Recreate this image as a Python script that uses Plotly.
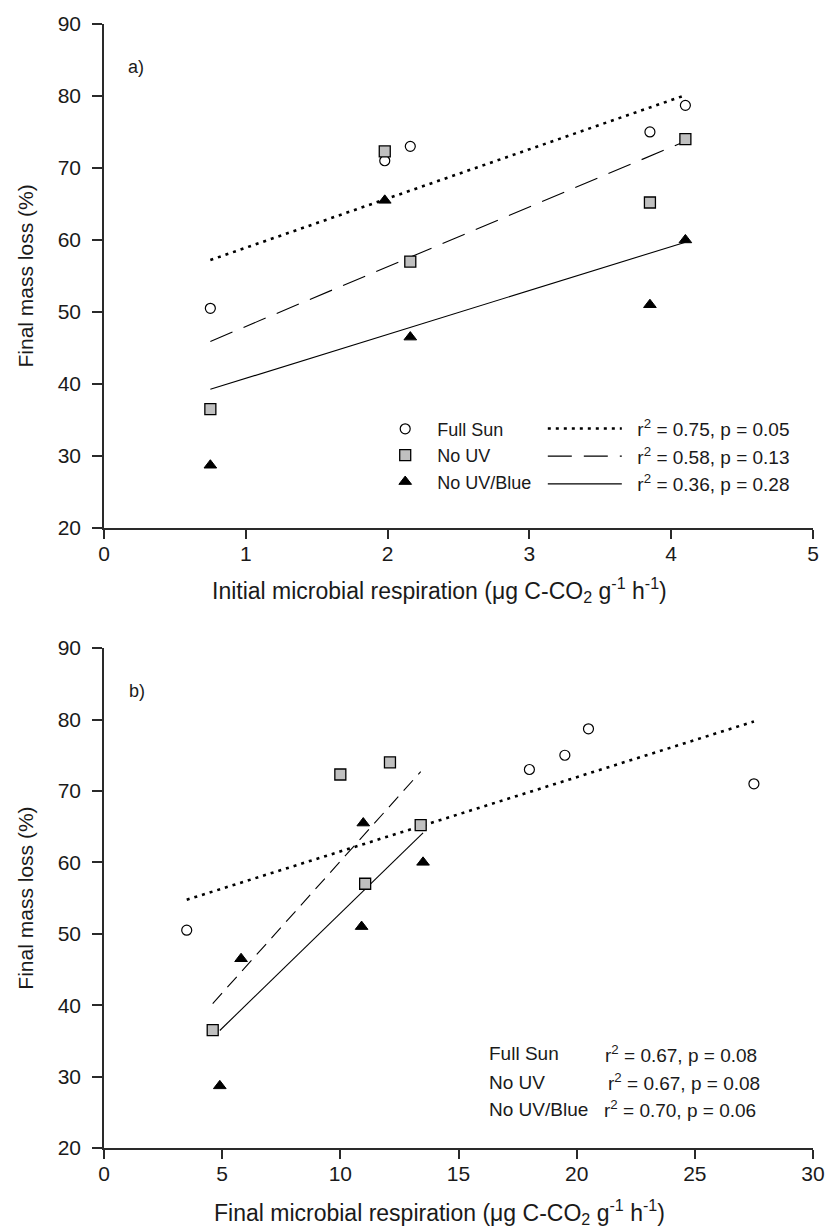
import numpy as np
import plotly.graph_objects as go

# Treatments
groups = ["Full Sun", "No UV", "No UV/Blue"]

# Final mass loss (%) of the five litters under each treatment
mass_loss_full_sun = [50.5, 71.0, 73.0, 75.0, 78.7]
mass_loss_no_uv = [36.5, 72.3, 57.0, 65.2, 74.0]
mass_loss_no_uv_blue = [28.7, 65.5, 46.5, 51.0, 60.0]

# Initial microbial respiration of the five litters (ug C-CO2 g-1 h-1)
initial_resp = [0.75, 1.98, 2.16, 3.85, 4.10]

# Final microbial respiration under each treatment (ug C-CO2 g-1 h-1)
final_resp_full_sun = [3.5, 27.5, 18.0, 19.5, 20.5]
final_resp_no_uv = [4.6, 10.0, 11.05, 13.4, 12.1]
final_resp_no_uv_blue = [4.9, 10.97, 5.8, 10.9, 13.5]

# Regression statistics
stats_initial = ["r<sup>2</sup> = 0.75, p = 0.05",
                 "r<sup>2</sup> = 0.58, p = 0.13",
                 "r<sup>2</sup> = 0.36, p = 0.28"]
stats_final = ["r<sup>2</sup> = 0.67, p = 0.08",
               "r<sup>2</sup> = 0.67, p = 0.08",
               "r<sup>2</sup> = 0.70, p = 0.06"]

# Axis tick values
x_ticks_initial = [0, 1, 2, 3, 4, 5]
x_ticks_final = [0, 5, 10, 15, 20, 25, 30]
y_ticks = [20, 30, 40, 50, 60, 70, 80, 90]

mass_loss = [mass_loss_full_sun, mass_loss_no_uv, mass_loss_no_uv_blue]
final_resp = [final_resp_full_sun, final_resp_no_uv, final_resp_no_uv_blue]

FONT = "Liberation Sans, Arial, sans-serif"
TXT = "#1a1a1a"
AX = "#2a2a2a"

markers = [
    dict(symbol="circle-open", size=10, color="black", line=dict(width=1.2, color="black")),
    dict(symbol="square", size=11, color="#c0c0c0", line=dict(width=1.3, color="black")),
    dict(symbol="triangle-up", size=11, color="black", line=dict(width=1, color="black")),
]
lines_initial = [
    dict(color="black", width=2.6, dash="3px,5px"),
    dict(color="black", width=1.1, dash="24px,12px"),
    dict(color="black", width=1.1, dash="solid"),
]
lines_final = [
    dict(color="black", width=2.6, dash="3px,5px"),
    dict(color="black", width=1.1, dash="14px,8px"),
    dict(color="black", width=1.1, dash="solid"),
]


def fit_line(x, y):
    slope, intercept = np.polyfit(x, y, 1)
    xs = np.array([min(x), max(x)])
    return xs, slope * xs + intercept


fig = go.Figure()

# Panel a: regression lines (second legend) then points (first legend)
for i, g in enumerate(groups):
    xs, ys = fit_line(initial_resp, mass_loss[i])
    fig.add_trace(go.Scatter(
        x=xs, y=ys, mode="lines", line=lines_initial[i],
        name="\u00a0\u00a0" + stats_initial[i], legend="legend2",
        legendgroup="fit%d" % i, xaxis="x", yaxis="y", hoverinfo="skip"))
for i, g in enumerate(groups):
    fig.add_trace(go.Scatter(
        x=initial_resp, y=mass_loss[i], mode="markers", marker=markers[i],
        name=g, legend="legend", xaxis="x", yaxis="y"))

# Panel b
for i, g in enumerate(groups):
    xs, ys = fit_line(final_resp[i], mass_loss[i])
    fig.add_trace(go.Scatter(
        x=xs, y=ys, mode="lines", line=lines_final[i], showlegend=False,
        xaxis="x2", yaxis="y2", hoverinfo="skip"))
for i, g in enumerate(groups):
    fig.add_trace(go.Scatter(
        x=final_resp[i], y=mass_loss[i], mode="markers", marker=markers[i],
        name=g, showlegend=False, xaxis="x2", yaxis="y2"))

W, H = 837, 1232
ML, MR, MT, MB = 104, 14, 17, 84
PW, PH = W - ML - MR, H - MT - MB
dom_a = [1 - (524 - MT) / PH, 1]
dom_b = [0, (1148 - 645) / PH]

tick_font = dict(family=FONT, size=21, color=TXT)
base = dict(showline=True, linecolor=AX, linewidth=1.5, showgrid=False,
            zeroline=False, tickwidth=1.5, tickcolor=AX, tickfont=tick_font)
outer_x = dict(base, ticks="outside", ticklen=9, ticklabelstandoff=-3)
outer_y = dict(base, ticks="outside", ticklen=10, ticklabelstandoff=7,
               title=dict(text="Final mass loss (%)",
                          font=dict(family=FONT, size=21, color=TXT),
                          standoff=18))
inner = dict(base, ticks="inside", ticklen=9, showticklabels=False)

fig.update_layout(
    width=W, height=H,
    margin=dict(l=ML, r=MR, t=MT, b=MB),
    paper_bgcolor="white", plot_bgcolor="white",
    font=dict(family=FONT, color=TXT),
    xaxis=dict(outer_x, domain=[0, 1], anchor="y", range=[0, 5], tickvals=x_ticks_initial),
    yaxis=dict(outer_y, domain=dom_a, anchor="x", range=[20, 90], tickvals=y_ticks),
    xaxis3=dict(inner, overlaying="x", anchor="y", side="top", range=[0, 5], tickvals=x_ticks_initial),
    yaxis3=dict(inner, overlaying="y", anchor="x", side="right", range=[20, 90], tickvals=y_ticks),
    xaxis2=dict(outer_x, domain=[0, 1], anchor="y2", range=[0, 30], tickvals=x_ticks_final),
    yaxis2=dict(outer_y, domain=dom_b, anchor="x2", range=[20, 90], tickvals=y_ticks),
    xaxis4=dict(inner, overlaying="x2", anchor="y2", side="top", range=[0, 30], tickvals=x_ticks_final),
    yaxis4=dict(inner, overlaying="y2", anchor="x2", side="right", range=[20, 90], tickvals=y_ticks),
    legend=dict(x=(377 - ML) / PW, y=(1148 - 406) / PH, xanchor="left", yanchor="top",
                itemwidth=54, bgcolor="rgba(0,0,0,0)", borderwidth=0,
                font=dict(family=FONT, size=18, color=TXT), traceorder="normal"),
    legend2=dict(x=(549 - ML) / PW, y=(1148 - 405) / PH, xanchor="left", yanchor="top",
                 itemwidth=74, bgcolor="rgba(0,0,0,0)", borderwidth=0, tracegroupgap=0,
                 font=dict(family=FONT, size=19, color=TXT), traceorder="grouped"),
    showlegend=True,
)

ann_font = dict(family=FONT, size=19, color=TXT)
title_font = dict(family=FONT, size=23, color=TXT)
annotations = [
    dict(text="a)", x=(126 - ML) / PW, y=(524 - 62) / 505, xref="x domain", yref="y domain",
         xanchor="left", yanchor="middle", showarrow=False, font=dict(ann_font, size=18)),
    dict(text="b)", x=(127 - ML) / PW, y=(1148 - 688) / 503, xref="x2 domain", yref="y2 domain",
         xanchor="left", yanchor="middle", showarrow=False, font=dict(ann_font, size=18)),
    dict(text="Initial microbial respiration (\u03bcg C-CO<sub>2</sub> g<sup>-1</sup> h<sup>-1</sup>)",
         x=(444 - ML) / PW, y=(1148 - 587) / PH, xref="paper", yref="paper",
         xanchor="center", yanchor="middle", showarrow=False, font=title_font),
    dict(text="Final microbial respiration (\u03bcg C-CO<sub>2</sub> g<sup>-1</sup> h<sup>-1</sup>)",
         x=(444 - ML) / PW, y=(1148 - 1212) / PH, xref="paper", yref="paper",
         xanchor="center", yanchor="middle", showarrow=False, font=title_font),
]
rows_b = [1053, 1082, 1109]
stat_x_b = [610, 613, 609]
for i, g in enumerate(groups):
    annotations.append(dict(text=g, x=(492 - ML) / PW, y=(1148 - rows_b[i]) / 503,
                            xref="x2 domain", yref="y2 domain", xanchor="left",
                            yanchor="middle", showarrow=False, font=ann_font))
    annotations.append(dict(text=stats_final[i], x=(stat_x_b[i] - ML) / PW,
                            y=(1148 - rows_b[i]) / 503, xref="x2 domain", yref="y2 domain",
                            xanchor="left", yanchor="middle", showarrow=False, font=ann_font))
fig.update_layout(annotations=annotations)

fig.write_html("out.html")
